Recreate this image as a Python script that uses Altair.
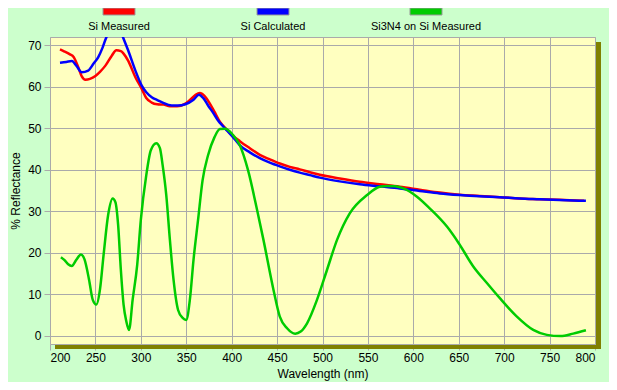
import altair as alt
import pandas as pd

# ---- data ----
red_nm = [211, 216, 222, 226, 231, 235, 239, 244, 250, 255, 261, 268, 273, 278, 281, 286,
          294, 301, 306, 312, 318, 325, 332, 340, 348, 354, 360, 365, 370, 375, 381, 387,
          394, 401, 409, 420, 431, 442, 453, 464, 475, 486, 497, 519, 541, 563, 585, 607,
          629, 651, 673, 695, 717, 739, 761, 788]
red_val = [69.0, 68.5, 67.8, 67.2, 64.8, 62.5, 61.7, 61.9, 62.6, 63.6, 65.1, 67.5, 68.8, 68.6, 68.0, 66.3,
           62.3, 59.5, 57.3, 56.2, 55.8, 55.7, 55.3, 55.3, 55.8, 56.8, 58.0, 58.5, 57.8, 56.3, 54.0, 51.6,
           49.8, 48.3, 46.9, 45.2, 43.6, 42.5, 41.5, 40.7, 40.1, 39.4, 38.8, 37.9, 37.1, 36.5, 35.9, 35.2,
           34.5, 34.0, 33.7, 33.4, 33.1, 32.9, 32.8, 32.5]

blue_nm = [211, 218, 224, 229, 235, 242, 248, 253, 258, 262, 266, 270, 274, 278, 281, 286,
           294, 301, 306, 312, 318, 323, 334, 341, 349, 358, 364, 369, 374, 380, 385, 390,
           395, 401, 409, 420, 431, 442, 453, 464, 475, 486, 497, 519, 541, 563, 585, 607,
           629, 651, 673, 695, 717, 739, 761, 790]
blue_val = [65.8, 66.0, 66.2, 65.1, 63.5, 63.9, 65.6, 67.1, 69.5, 71.9, 73.3, 74.0, 74.2, 73.2, 71.6, 68.8,
            63.9, 60.3, 58.7, 57.5, 56.8, 56.3, 55.5, 55.5, 55.8, 56.9, 58.1, 57.2, 55.5, 53.6, 51.9, 50.6,
            49.4, 48.0, 45.9, 44.2, 42.8, 41.7, 40.8, 40.0, 39.3, 38.7, 38.1, 37.2, 36.5, 36.0, 35.5, 34.9,
            34.3, 33.9, 33.6, 33.4, 33.1, 32.9, 32.7, 32.5]

green_nm = [212, 216, 220, 224, 229, 234, 238, 243, 247, 251, 255, 259, 264, 269, 272, 275,
            278, 281, 284, 287, 291, 296, 300, 306, 311, 317, 321, 324, 328, 332, 336, 341,
            346, 350, 354, 358, 363, 368, 374, 381, 387, 393, 401, 409, 418, 428, 435, 446,
            453, 461, 470, 476, 483, 494, 505, 516, 530, 549, 563, 571, 580, 589, 604, 618,
            637, 650, 666, 681, 695, 714, 732, 747, 762, 776, 790]
green_val = [18.9, 18.2, 17.2, 16.8, 18.3, 19.6, 18.4, 13.5, 8.7, 7.5, 11.1, 19.5, 29.1, 33.1, 32.2, 26.7,
             15.9, 7.5, 3.5, 1.4, 8.7, 17.1, 27.9, 38.7, 44.7, 46.4, 45.2, 41.1, 33.9, 23.1, 13.5, 6.2,
             4.3, 3.8, 8.7, 18.3, 27.9, 37.5, 43.5, 47.8, 49.8, 49.9, 48.5, 45.9, 39.9, 30.3, 23.1, 11.1,
             4.6, 1.8, 0.5, 1.0, 3.0, 8.7, 15.9, 23.1, 29.5, 33.9, 35.9, 36.1, 36.0, 35.5, 33.5, 30.7,
             26.3, 22.3, 16.7, 12.7, 9.1, 4.6, 1.4, 0.2, -0.1, 0.5, 1.3]

series_names = ["Si Measured", "Si Calculated", "Si3N4 on Si Measured"]
series_colors = ["#FF0000", "#0000FF", "#00CC00"]
x_ticks = [200, 250, 300, 350, 400, 450, 500, 550, 600, 650, 700, 750, 800]
y_ticks = [0, 10, 20, 30, 40, 50, 60, 70]

W, H = 545, 307
FONT = "Liberation Sans"

xs = alt.Scale(domain=[200, 800], nice=False, zero=False)
ys = alt.Scale(domain=[-2, 72], nice=False, zero=False)

xax = alt.Axis(values=x_ticks, title="Wavelength (nm)", grid=True, gridColor="#AAAAAA",
               tickColor="#AAAAAA", tickSize=6, domain=False, labelFont=FONT, labelFontSize=12,
               labelColor="#000000", titleFont=FONT, titleFontSize=12, titleFontWeight="normal",
               titleColor="#000000", labelPadding=2, titlePadding=5, format="d")
yax = alt.Axis(values=y_ticks, title="% Reflectance", grid=True, gridColor="#AAAAAA",
               tickColor="#AAAAAA", tickSize=6, domain=False, labelFont=FONT, labelFontSize=12,
               labelColor="#000000", titleFont=FONT, titleFontSize=12, titleFontWeight="normal",
               titleColor="#000000", labelPadding=3, titlePadding=5, format="d")

frames = []
for name, nm, val in [(series_names[0], red_nm, red_val),
                      (series_names[1], blue_nm, blue_val),
                      (series_names[2], green_nm, green_val)]:
    frames.append(pd.DataFrame({"nm": nm, "R": val, "series": name}))

one = pd.DataFrame({"a": [0]})

# olive drop shadow around plot (decoration)
shadow_r = alt.Chart(one).mark_rect(color="#808000").encode(
    x=alt.value(W + 1), x2=alt.value(W + 6), y=alt.value(5), y2=alt.value(H + 5))
shadow_b = alt.Chart(one).mark_rect(color="#808000").encode(
    x=alt.value(5), x2=alt.value(W + 6), y=alt.value(H + 1), y2=alt.value(H + 5))

lines = []
for i, df in enumerate(frames):
    c = alt.Chart(df).mark_line(color=series_colors[i], strokeWidth=2.5, clip=True,
                                interpolate="monotone").encode(
        x=alt.X("nm:Q", scale=xs, axis=xax),
        y=alt.Y("R:Q", scale=ys, axis=yax),
    )
    lines.append(c)

legend_x = [53, 207, 360]
legend_layers = []
for i, name in enumerate(series_names):
    sw = alt.Chart(one).mark_rect(color=series_colors[i], stroke="#999999", strokeWidth=1).encode(
        x=alt.value(legend_x[i]), x2=alt.value(legend_x[i] + 32),
        y=alt.value(-29), y2=alt.value(-22))
    tx = alt.Chart(one).mark_text(font=FONT, fontSize=11, color="#000000", align="center",
                                  baseline="middle").encode(
        x=alt.value(legend_x[i] + 16), y=alt.value(-10), text=alt.value(name))
    legend_layers += [sw, tx]

chart = alt.layer(*lines, shadow_r, shadow_b, *legend_layers).properties(
    width=W, height=H,
    autosize=alt.AutoSizeParams(type="none"),
    padding={"left": 42, "top": 29, "right": 14, "bottom": 38},
    background="#CCFFCC",
).configure_view(fill="#FFFFC0", stroke="#AAAAAA", strokeWidth=1)

chart.save("out.html", embed_options={"renderer": "svg", "actions": False})
